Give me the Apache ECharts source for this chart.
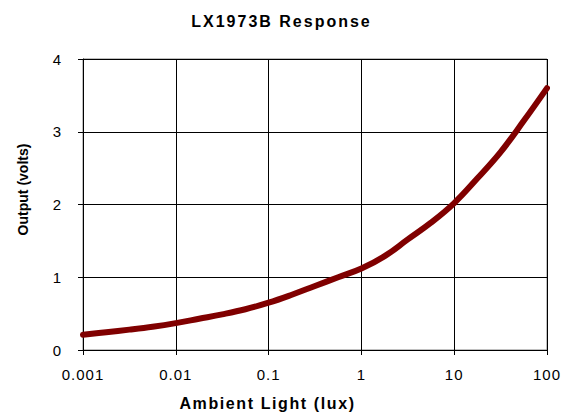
<!DOCTYPE html>
<html>
<head>
<meta charset="utf-8">
<script src="https://cdn.jsdelivr.net/npm/echarts@6/dist/echarts.min.js"></script>
<style>
  html, body { margin: 0; padding: 0; background: #fff; }
  #chart { width: 563px; height: 416px; }
</style>
</head>
<body>
<div id="chart"></div>
<script>
// ambient light (lux) vs output (volts)
const lux = [0.001, 0.00178, 0.00316, 0.00562, 0.01, 0.0178, 0.0316, 0.0562, 0.1, 0.178, 0.316,
  0.562, 1, 1.78, 3.16, 5.62, 10, 17.8, 31.6, 56.2, 100]
const volts = [0.21, 0.245, 0.28, 0.32, 0.37, 0.43, 0.49, 0.56, 0.65, 0.76, 0.88,
  1.0, 1.12, 1.29, 1.52, 1.75, 2.02, 2.36, 2.72, 3.15, 3.6]
const xTickLabels = ['0.001', '0.01', '0.1', '1', '10', '100']

const chart = echarts.init(document.getElementById('chart'), null, { renderer: 'svg' })
const font = 'Liberation Sans, Arial, sans-serif'

chart.setOption({
  backgroundColor: '#fff',
  animation: false,
  title: {
    text: 'LX1973B Response',
    left: 'center',
    top: 8,
    textStyle: { fontFamily: font, fontSize: 16, fontWeight: 'bold', color: '#000' }
  },
  grid: {
    left: 83, right: 16, top: 59, bottom: 64,
    show: true, borderColor: '#808080', borderWidth: 1
  },
  xAxis: {
    type: 'log',
    logBase: 10,
    min: 0.001,
    max: 100,
    name: 'Ambient Light (lux)',
    nameLocation: 'middle',
    nameGap: 45,
    // label sits left of the plot centre in the original
    nameTextStyle: { fontFamily: font, fontSize: 16, fontWeight: 'bold', color: '#000', padding: [0, 95, 0, 0] },
    axisLine: { lineStyle: { color: '#000', width: 1 } },
    axisTick: { show: true, length: 5, lineStyle: { color: '#000' } },
    minorTick: { show: false },
    axisLabel: {
      fontFamily: font, fontSize: 15, color: '#000', margin: 17,
      formatter: v => xTickLabels.find(t => Math.abs(Math.log10(+t) - Math.log10(v)) < 1e-6) || ''
    },
    splitLine: { show: true, lineStyle: { color: '#000', width: 1 } }
  },
  yAxis: {
    type: 'value',
    min: 0,
    max: 4,
    interval: 1,
    name: 'Output (volts)',
    nameLocation: 'middle',
    nameGap: 53,
    nameTextStyle: { fontFamily: font, fontSize: 14, fontWeight: 'bold', color: '#000', padding: [0, 0, 0, 30] },
    axisLine: { show: true, lineStyle: { color: '#000', width: 1 } },
    axisTick: { show: true, length: 5, lineStyle: { color: '#000' } },
    axisLabel: { fontFamily: font, fontSize: 15, color: '#000', margin: 21 },
    splitLine: { show: true, lineStyle: { color: '#000', width: 1 } }
  },
  series: [{
    type: 'line',
    data: lux.map((x, i) => [x, volts[i]]),
    smooth: 0.4,
    showSymbol: false,
    clip: false,
    lineStyle: { color: '#800000', width: 6, cap: 'round', join: 'round' }
  }]
})

// the original chart has widely tracked text; svg text takes letter-spacing
const tracking = { 'LX1973B Response': 2, 'Ambient Light (lux)': 1.6 }
const applyTracking = () => {
  document.querySelectorAll('#chart svg text').forEach(t => {
    const s = tracking[t.textContent] ?? (/^[\d.]+$/.test(t.textContent) ? 1 : 0)
    if (s) t.setAttribute('letter-spacing', s)
  })
}
applyTracking()
chart.on('finished', applyTracking)
</script>
</body>
</html>
